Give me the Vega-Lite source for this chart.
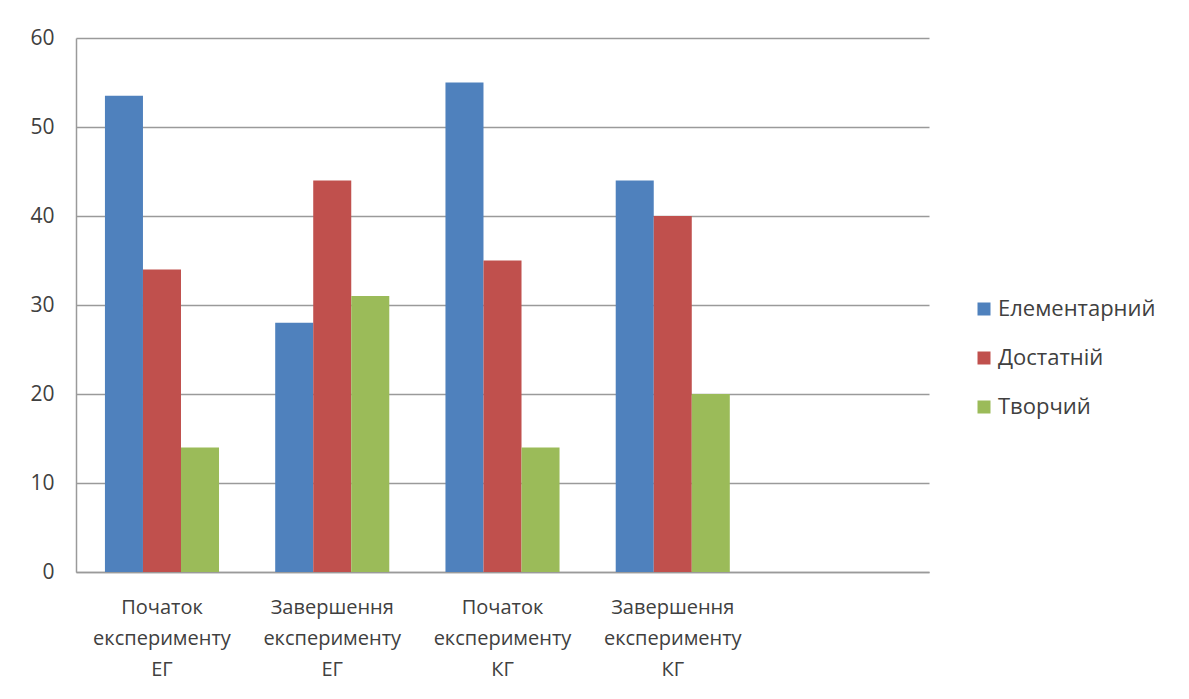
{
  "$schema": "https://vega.github.io/schema/vega-lite/v6.json",
  "width": 853,
  "height": 534,
  "autosize": "none",
  "padding": {"left": 76, "top": 38, "right": 260, "bottom": 127},
  "background": "white",
  "config": {
    "view": {"stroke": null},
    "font": "Open Sans"
  },
  "data": {
    "values": [
      {"group": "Початок експерименту ЕГ", "series": "Елементарний", "value": 53.5},
      {"group": "Початок експерименту ЕГ", "series": "Достатній", "value": 34},
      {"group": "Початок експерименту ЕГ", "series": "Творчий", "value": 14},
      {"group": "Завершення експерименту ЕГ", "series": "Елементарний", "value": 28},
      {"group": "Завершення експерименту ЕГ", "series": "Достатній", "value": 44},
      {"group": "Завершення експерименту ЕГ", "series": "Творчий", "value": 31},
      {"group": "Початок експерименту КГ", "series": "Елементарний", "value": 55},
      {"group": "Початок експерименту КГ", "series": "Достатній", "value": 35},
      {"group": "Початок експерименту КГ", "series": "Творчий", "value": 14},
      {"group": "Завершення експерименту КГ", "series": "Елементарний", "value": 44},
      {"group": "Завершення експерименту КГ", "series": "Достатній", "value": 40},
      {"group": "Завершення експерименту КГ", "series": "Творчий", "value": 20}
    ]
  },
  "mark": {"type": "bar"},
  "encoding": {
    "x": {
      "field": "group",
      "type": "nominal",
      "scale": {
        "domain": ["Початок експерименту ЕГ", "Завершення експерименту ЕГ", "Початок експерименту КГ", "Завершення експерименту КГ", " "],
        "paddingInner": 0.33,
        "paddingOuter": 0.17
      },
      "axis": {
        "title": null,
        "labelAngle": 0,
        "labelExpr": "split(datum.label, ' ')",
        "labelLineHeight": 31,
        "labelFontSize": 20,
        "labelColor": "#404040",
        "labelPadding": 25,
        "labelBaseline": "top",
        "labelLimit": 0,
        "ticks": false,
        "domainColor": "#9a9a9a",
        "domainWidth": 1.5
      }
    },
    "xOffset": {
      "field": "series",
      "type": "nominal",
      "sort": ["Елементарний", "Достатній", "Творчий"],
      "scale": {"paddingInner": 0, "paddingOuter": 0}
    },
    "y": {
      "field": "value",
      "type": "quantitative",
      "scale": {"domain": [0, 60]},
      "axis": {
        "title": null,
        "values": [0, 10, 20, 30, 40, 50, 60],
        "labelFontSize": 21,
        "labelColor": "#404040",
        "labelPadding": 22,
        "ticks": false,
        "domainColor": "#9a9a9a",
        "domainWidth": 1.5,
        "gridColor": "#9a9a9a",
        "gridWidth": 1.5
      }
    },
    "color": {
      "field": "series",
      "type": "nominal",
      "scale": {
        "domain": ["Елементарний", "Достатній", "Творчий"],
        "range": ["#4F81BD", "#C0504D", "#9BBB59"]
      },
      "legend": {
        "title": null,
        "orient": "none",
        "legendX": 897,
        "legendY": 260,
        "symbolType": "square",
        "symbolSize": 169,
        "symbolStrokeWidth": 0,
        "symbolOpacity": 1,
        "labelFontSize": 22,
        "labelColor": "#404040",
        "labelOffset": 3,
        "rowPadding": 27
      }
    }
  }
}
